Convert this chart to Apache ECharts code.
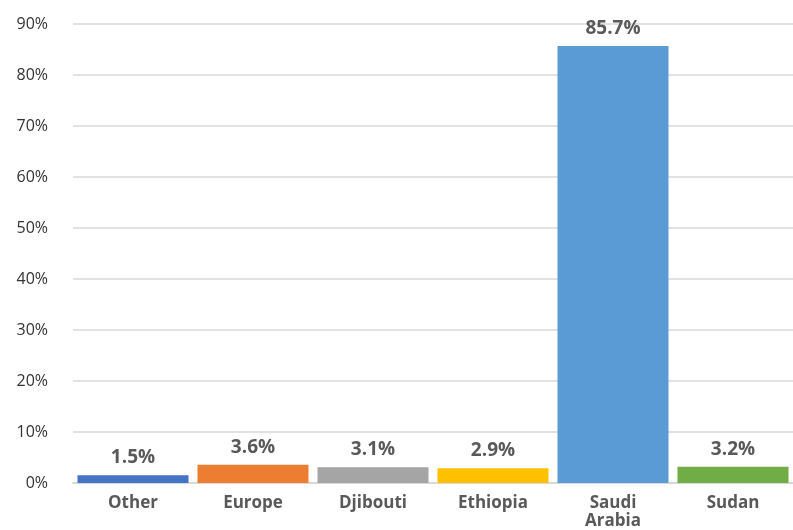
<!DOCTYPE html>
<html><head><meta charset="utf-8">
<script src="https://cdn.jsdelivr.net/npm/echarts@6/dist/echarts.min.js"></script>
<style>html,body{margin:0;padding:0;background:#fff}#c{width:793px;height:530px}</style>
</head><body><div id="c"></div>
<script>
const categories = ["Other", "Europe", "Djibouti", "Ethiopia", "Saudi\nArabia", "Sudan"];
const values = [1.5, 3.6, 3.1, 2.9, 85.7, 3.2];
const colors = ["#4472C4", "#ED7D31", "#A5A5A5", "#FFC000", "#5B9BD5", "#70AD47"];
const yTicks = [0, 10, 20, 30, 40, 50, 60, 70, 80, 90];

const chart = echarts.init(document.getElementById('c'));
chart.setOption({
  animation: false,
  grid: {left: 73, right: 0, top: 24, bottom: 45},
  xAxis: {
    type: 'category', data: categories,
    axisLine: {lineStyle: {color: '#d9d9d9', width: 2}},
    axisTick: {show: false},
    axisLabel: {color: '#595959', fontFamily: 'Open Sans', fontWeight: 'bold', fontSize: 17, lineHeight: 18, margin: 11}
  },
  yAxis: {
    type: 'value', min: 0, max: 90, interval: 10,
    axisLabel: {color: '#333', fontFamily: 'Open Sans', fontSize: 16, margin: 25, formatter: v => yTicks.includes(v) ? v + '%' : ''},
    splitLine: {lineStyle: {color: '#d9d9d9', width: 1.5}},
    axisLine: {show: false}, axisTick: {show: false}
  },
  series: [{
    type: 'bar', barCategoryGap: '7.5%',
    data: values.map((v, i) => ({value: v, itemStyle: {color: colors[i]}})),
    label: {show: true, position: 'top', distance: 8, color: '#595959', fontFamily: 'Open Sans', fontWeight: 'bold', fontSize: 19, formatter: p => p.value.toFixed(1) + '%'}
  }]
});
</script></body></html>
